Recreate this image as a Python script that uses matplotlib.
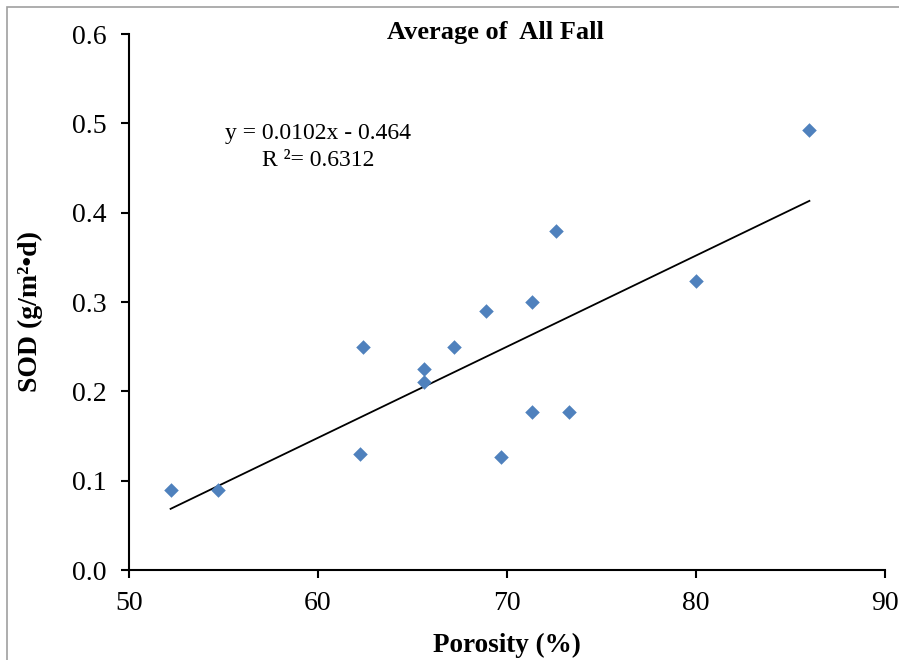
import numpy as np
import matplotlib.pyplot as plt
from matplotlib.patches import Rectangle

plt.rcParams['font.family'] = ['Liberation Serif', 'DejaVu Serif']

# porosity (%) and SOD (g/m2-d)
porosity = [52.2, 54.7, 62.2, 62.4, 65.6, 65.6, 67.2, 68.9, 69.7, 71.3, 71.3, 72.6, 73.3, 80.0, 86.0]
sod = [0.090, 0.090, 0.130, 0.250, 0.225, 0.210, 0.250, 0.290, 0.127, 0.300, 0.177, 0.380, 0.177, 0.323, 0.492]

slope, intercept = 0.0102, -0.464
r2 = 0.6312

xticks = [50, 60, 70, 80, 90]
yticks = [0.0, 0.1, 0.2, 0.3, 0.4, 0.5, 0.6]

fig = plt.figure(figsize=(8.99, 6.60), dpi=100)
ax = fig.add_axes([129/899, 1 - 570/660, (885-129)/899, (570-34)/660])

ax.scatter(porosity, sod, marker='D', s=55, color='#4F81BD', zorder=3, linewidths=0)

xs = np.array([min(porosity), max(porosity)])
ax.plot(xs, slope * xs + intercept, color='black', lw=1.3)

ax.set_xlim(50, 90)
ax.set_ylim(0, 0.6)
ax.set_xticks(xticks)
ax.set_yticks(yticks)
ax.set_xticklabels([str(t) for t in xticks])
ax.set_yticklabels([f'{t:.1f}' for t in yticks])
ax.tick_params(direction='out', length=6, width=1.5, labelsize=20)
ax.tick_params(axis='y', pad=10)
ax.tick_params(axis='x', pad=9)
for s in ['top', 'right']:
    ax.spines[s].set_visible(False)
for s in ['left', 'bottom']:
    ax.spines[s].set_linewidth(1.5)

fig.text(495/899, 1 - 33/660, 'Average of  All Fall', ha='center', va='center',
         fontsize=19, fontweight='bold')
fig.text(507/899, 1 - 645/660, 'Porosity (%)', ha='center', va='center',
         fontsize=19.5, fontweight='bold')
fig.text(30/899, 1 - 312/660, 'SOD (g/m²•d)', ha='center', va='center',
         rotation=90, fontsize=20, fontweight='bold')

fig.text(318/899, 1 - 133/660, f'y = {slope}x - {abs(intercept)}', ha='center',
         va='center', fontsize=17)
fig.text(318/899, 1 - 160/660, f'R ²= {r2}', ha='center', va='center', fontsize=17)

# chart area frame (only top/left visible in the reference crop)
fig.patches.append(Rectangle((7/899, -0.1), 1.2, 1 - 7/660 + 0.1, transform=fig.transFigure,
                             fill=False, edgecolor='#A0A0A0', lw=1.2))

fig.savefig('out.png', dpi=100)
